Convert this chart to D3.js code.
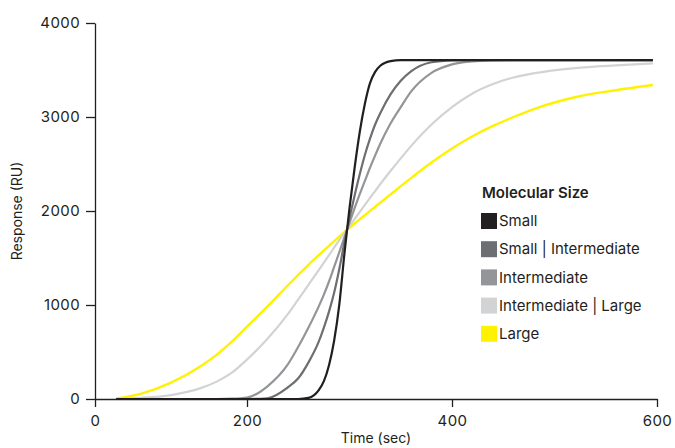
<!DOCTYPE html>
<html>
<head>
<meta charset="utf-8">
<script src="https://cdn.jsdelivr.net/npm/d3@7"></script>
<style>
  html, body { margin: 0; padding: 0; background: #ffffff; }
  svg { display: block; font-family: Inter, "Noto Sans", sans-serif; }
</style>
</head>
<body>
<svg id="chart" width="675" height="448"></svg>
<script>
// ---- data ----
const time = [28, 60, 100, 140, 160, 180, 200, 220, 240, 250, 260, 270, 275, 280, 285, 290, 295, 300, 305, 310, 315, 320, 325, 330, 340, 350, 360, 380, 400, 420, 440, 460, 480, 520, 560, 596];

const small =        [0, 0, 0, 0, 0, 0, 0, 0, 0, 0, 12, 95, 190, 360, 620, 1000, 1540, 2030, 2460, 2840, 3140, 3360, 3480, 3545, 3595, 3606, 3606, 3606, 3606, 3606, 3606, 3606, 3606, 3606, 3606, 3606];
const smallInter =   [0, 0, 0, 0, 0, 0, 0, 8, 125, 220, 390, 610, 760, 930, 1130, 1380, 1665, 1925, 2165, 2390, 2595, 2770, 2920, 3040, 3240, 3385, 3485, 3582, 3603, 3606, 3606, 3606, 3606, 3606, 3606, 3606];
const intermediate = [0, 0, 0, 0, 0, 3, 15, 135, 370, 555, 760, 985, 1110, 1250, 1405, 1560, 1720, 1875, 2030, 2180, 2320, 2460, 2590, 2715, 2930, 3105, 3270, 3470, 3560, 3592, 3603, 3606, 3606, 3606, 3606, 3606];
const interLarge =   [2, 12, 42, 118, 185, 280, 420, 640, 905, 1060, 1215, 1370, 1450, 1530, 1610, 1690, 1765, 1840, 1915, 1990, 2065, 2140, 2212, 2285, 2425, 2560, 2690, 2920, 3105, 3250, 3350, 3420, 3465, 3520, 3550, 3571];
const large =        [5, 55, 175, 355, 470, 610, 770, 985, 1210, 1320, 1428, 1530, 1580, 1630, 1679, 1728, 1776, 1822, 1867, 1912, 1956, 2000, 2044, 2088, 2176, 2264, 2350, 2515, 2665, 2795, 2905, 3000, 3085, 3210, 3285, 3340];

const seriesNames = ["Small", "Small | Intermediate", "Intermediate", "Intermediate | Large", "Large"];
const seriesColors = ["#231f20", "#6d6e71", "#939598", "#d1d3d4", "#fff200"];
const seriesValues = [small, smallInter, intermediate, interLarge, large];

const xTicks = [0, 200, 400, 600];
const yTicks = [0, 1000, 2000, 3000, 4000];
const xTitle = "Time (sec)";
const yTitle = "Response (RU)";
const legendTitle = "Molecular Size";

// ---- chart ----
const svg = d3.select("#chart");
const axisColor = "#231f20";
const textColor = "#231f20";

// the reference's time axis is not evenly spaced between 0 and 200
const x = d3.scaleLinear().domain([0, 200, 600]).range([95, 247, 657]);
const y = d3.scaleLinear().domain([0, 4000]).range([399, 23]);

// lines (drawn largest first so Small sits on top)
const line = d3.line()
  .x((d, i) => x(time[i]))
  .y(d => y(d))
  .curve(d3.curveMonotoneX);

const order = [4, 3, 2, 1, 0];
svg.append("g")
  .selectAll("path")
  .data(order)
  .join("path")
  .attr("fill", "none")
  .attr("stroke", i => seriesColors[i])
  .attr("stroke-width", i => i === 4 ? 2.4 : 2.2)
  .attr("stroke-linejoin", "round")
  .attr("stroke-linecap", "butt")
  .attr("d", i => line(seriesValues[i]));

// axes
const xAxis = svg.append("g")
  .attr("transform", `translate(0,${y(0)})`)
  .call(d3.axisBottom(x).tickValues(xTicks).tickSize(8).tickSizeOuter(0).tickPadding(8).tickFormat(d3.format("d")));
const yAxis = svg.append("g")
  .attr("transform", `translate(${x(0)},0)`)
  .call(d3.axisLeft(y).tickValues(yTicks).tickSize(9).tickSizeOuter(0).tickPadding(6).tickFormat(d3.format("d")));

[xAxis, yAxis].forEach(g => {
  g.selectAll("path, line").attr("stroke", axisColor).attr("stroke-width", 1.3);
  g.selectAll("text")
    .attr("fill", textColor)
    .style("font-family", "Inter, 'Noto Sans', sans-serif")
    .style("font-size", "15px")
    .style("letter-spacing", "0.4px");
});

// axis titles
svg.append("text")
  .attr("x", (x(0) + x(600)) / 2)
  .attr("y", 443)
  .attr("text-anchor", "middle")
  .attr("fill", textColor)
  .style("font-size", "14px")
  .text(xTitle);

svg.append("text")
  .attr("transform", `translate(22,${(y(0) + y(4000)) / 2}) rotate(-90)`)
  .attr("text-anchor", "middle")
  .attr("fill", textColor)
  .style("font-size", "14px")
  .text(yTitle);

// legend
const legend = svg.append("g").attr("transform", "translate(481,0)");
legend.append("text")
  .attr("x", 1)
  .attr("y", 198)
  .attr("fill", textColor)
  .style("font-size", "15px")
  .style("font-weight", "600")
  .text(legendTitle);

const rows = legend.selectAll("g.row")
  .data(seriesNames)
  .join("g")
  .attr("class", "row")
  .attr("transform", (d, i) => `translate(0,${221 + i * 28.2})`);
rows.append("rect")
  .attr("x", 0).attr("y", -8)
  .attr("width", 16).attr("height", 16)
  .attr("fill", (d, i) => seriesColors[i]);
rows.append("text")
  .attr("x", 18)
  .attr("y", 0)
  .attr("dy", "0.35em")
  .attr("fill", textColor)
  .style("font-size", "15px")
  .text(d => d);
</script>
</body>
</html>
